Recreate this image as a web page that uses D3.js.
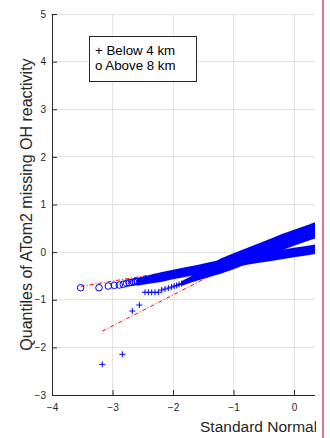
<!DOCTYPE html>
<html>
<head>
<meta charset="utf-8">
<script src="https://cdn.jsdelivr.net/npm/d3@7"></script>
<style>
  body { margin: 0; background: #fff; }
  svg { display: block; }
  text { font-family: "Liberation Sans", Arial, Helvetica, sans-serif; fill: #262626; }
</style>
</head>
<body>
<svg id="chart" width="330" height="438"></svg>
<script>
// Axis ticks
const xTicks = [-4, -3, -2, -1, 0, 1, 2, 3, 4];
const yTicks = [-3, -2, -1, 0, 1, 2, 3, 4, 5];

// "Below 4 km": isolated low-tail quantiles (standard normal quantile, sample quantile)
const belowTailX = [-3.169, -2.838, -2.673, -2.557, -2.463, -2.408, -2.352, -2.298, -2.243, -2.187, -2.132, -2.077, -2.023, -1.98, -1.94, -1.90, -1.86];
const belowTailY = [-2.356, -2.146, -1.237, -1.111, -0.844, -0.844, -0.844, -0.844, -0.844, -0.796, -0.775, -0.754, -0.733, -0.715, -0.700, -0.680, -0.660];
// "Below 4 km": dense body of the distribution (centre and half spread)
const belowBandX = [-1.86, -1.70, -1.55, -1.40, -1.20, -1.00, -0.80, -0.60, -0.40, -0.20, 0.00, 0.20, 0.40, 0.60];
const belowBandY = [-0.66, -0.57, -0.48, -0.39, -0.29, -0.19, -0.09, 0.01, 0.11, 0.21, 0.30, 0.39, 0.48, 0.57];
const belowBandSpread = [0.05, 0.07, 0.10, 0.13, 0.16, 0.168, 0.168, 0.168, 0.168, 0.168, 0.168, 0.168, 0.168, 0.168];
// "Below 4 km": reference line through the quartiles
const belowRefX = [-3.169, 3.0];
const belowRefY = [-1.66, 2.35];

// "Above 8 km": isolated low-tail quantiles
const aboveTailX = [-3.526, -3.223, -3.069, -2.970, -2.888, -2.821, -2.766, -2.722, -2.683, -2.650, -2.620, -2.590];
const aboveTailY = [-0.748, -0.748, -0.712, -0.697, -0.691, -0.676, -0.655, -0.643, -0.635, -0.628, -0.620, -0.612];
// "Above 8 km": dense body
const aboveBandX = [-2.60, -2.40, -2.20, -2.00, -1.80, -1.60, -1.40, -1.20, -1.00, -0.80, -0.60, -0.40, -0.20, 0.00, 0.20, 0.40, 0.60];
const aboveBandY = [-0.625, -0.575, -0.525, -0.470, -0.420, -0.370, -0.310, -0.260, -0.210, -0.170, -0.130, -0.090, -0.050, -0.010, 0.030, 0.070, 0.110];
const aboveBandSpread = [0.08, 0.09, 0.10, 0.10, 0.10, 0.10, 0.10, 0.10, 0.10, 0.10, 0.10, 0.10, 0.10, 0.10, 0.10, 0.10, 0.10];
// "Above 8 km": reference line
const aboveRefX = [-3.526, 3.5];
const aboveRefY = [-0.72, 0.755];

const legendLines = ["+ Below 4 km", "o Above 8 km"];

const svg = d3.select("#chart");
const axisLeftPx = 52, axisRightClip = 315, axisTop = 14, axisBottom = 395;

const x = d3.scaleLinear().domain([-4, 4]).range([axisLeftPx, axisLeftPx + 8 * 60.5]);
const y = d3.scaleLinear().domain([-3, 5]).range([axisBottom, axisTop]);

svg.append("defs").append("clipPath").attr("id", "plotClip")
  .append("rect").attr("x", axisLeftPx).attr("y", 0)
  .attr("width", axisRightClip - axisLeftPx).attr("height", 438);
svg.select("defs").append("clipPath").attr("id", "figClip")
  .append("rect").attr("x", 0).attr("y", 0).attr("width", axisRightClip + 1).attr("height", 438);

const plot = svg.append("g").attr("clip-path", "url(#plotClip)");

// grid
plot.append("g").selectAll("line").data(xTicks).join("line")
  .attr("x1", d => x(d)).attr("x2", d => x(d)).attr("y1", axisTop).attr("y2", axisBottom)
  .attr("stroke", "#e3e3e3").attr("stroke-width", 1).attr("shape-rendering", "crispEdges");
plot.append("g").selectAll("line").data(yTicks).join("line")
  .attr("x1", axisLeftPx).attr("x2", axisRightClip).attr("y1", d => y(d)).attr("y2", d => y(d))
  .attr("stroke", "#e3e3e3").attr("stroke-width", 1).attr("shape-rendering", "crispEdges");

// reference lines (dash-dot)
const refLine = d3.line().x(d => x(d[0])).y(d => y(d[1]));
[[belowRefX, belowRefY], [aboveRefX, aboveRefY]].forEach(([rx, ry]) => {
  plot.append("path").datum(rx.map((v, i) => [v, ry[i]]))
    .attr("d", refLine).attr("fill", "none").attr("stroke", "#ff0000")
    .attr("stroke-width", 1).attr("stroke-dasharray", "4,2,1,2");
});

// dense bodies
const band = d3.area().x(d => x(d[0])).y0(d => y(d[1] - d[2])).y1(d => y(d[1] + d[2]));
plot.append("path").datum(belowBandX.map((v, i) => [v, belowBandY[i], belowBandSpread[i]]))
  .attr("d", band).attr("fill", "#0000ff");
plot.append("path").datum(aboveBandX.map((v, i) => [v, aboveBandY[i], aboveBandSpread[i]]))
  .attr("d", band).attr("fill", "#0000ff");

// plus markers
plot.append("g").selectAll("path").data(belowTailX.map((v, i) => [v, belowTailY[i]])).join("path")
  .attr("d", d => `M${x(d[0]) - 3},${y(d[1])}h6M${x(d[0])},${y(d[1]) - 3}v6`)
  .attr("stroke", "#0000ff").attr("stroke-width", 1).attr("fill", "none");
// circle markers
plot.append("g").selectAll("circle").data(aboveTailX.map((v, i) => [v, aboveTailY[i]])).join("circle")
  .attr("cx", d => x(d[0])).attr("cy", d => y(d[1])).attr("r", 3.3)
  .attr("stroke", "#0000ff").attr("stroke-width", 1).attr("fill", "none");

// axes
const axG = svg.append("g").attr("clip-path", "url(#figClip)");
const xAxis = axG.append("g").attr("transform", `translate(0,${axisBottom})`)
  .call(d3.axisBottom(x).tickValues(xTicks).tickSizeInner(-5).tickSizeOuter(0).tickPadding(9));
const yAxis = axG.append("g").attr("transform", `translate(${axisLeftPx},0)`)
  .call(d3.axisLeft(y).tickValues(yTicks).tickSizeInner(-5).tickSizeOuter(0).tickPadding(6));
[xAxis, yAxis].forEach(g => {
  g.select(".domain").attr("stroke", "#262626");
  g.selectAll(".tick line").attr("stroke", "#262626");
  g.selectAll(".tick text").attr("fill", "#262626").style("font-size", "10px")
    .style("font-family", "'Liberation Sans', Arial, sans-serif");
});
xAxis.selectAll(".tick").filter(d => x(d) > axisRightClip + 2).remove();
xAxis.select(".domain").attr("d", `M${axisLeftPx},0.5H${axisRightClip}`);

// axis titles
axG.append("text").attr("x", 200).attr("y", 432).style("font-size", "15.5px")
  .text("Standard Normal Quantiles");
axG.append("text").attr("transform", `translate(32,${(axisTop + axisBottom) / 2}) rotate(-90)`)
  .attr("text-anchor", "middle").style("font-size", "16px")
  .text("Quantiles of ATom2 missing OH reactivity");

// legend box
const lg = svg.append("g");
lg.append("rect").attr("x", 89.5).attr("y", 36.5).attr("width", 107).attr("height", 45)
  .attr("fill", "#fff").attr("stroke", "#262626").attr("stroke-width", 1);
lg.selectAll("text.leg").data(legendLines).join("text").attr("class", "leg")
  .attr("x", 95).attr("y", (d, i) => 55 + i * 14.5).style("font-size", "13.3px").style("fill", "#000")
  .text(d => d);

// figure edge marker on the right
svg.append("line").attr("x1", 323).attr("x2", 323).attr("y1", 0).attr("y2", 438)
  .attr("stroke", "#d97b8c").attr("stroke-width", 2);
</script>
</body>
</html>
